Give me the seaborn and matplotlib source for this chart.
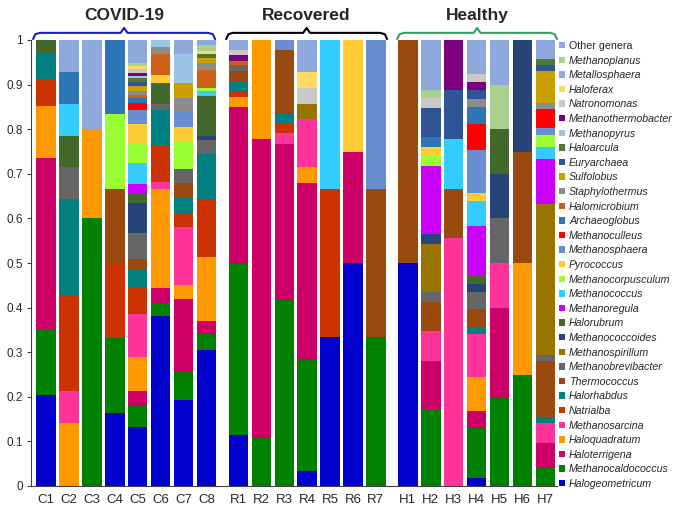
import matplotlib
matplotlib.use("Agg")
import matplotlib.pyplot as plt
from matplotlib.patches import Patch
import seaborn as sns
import pandas as pd
import numpy as np

# ── Data ───────────────────────────────────────────────────────────────────────
# genera in stacking order (bottom -> top)
genera = [
    "Halogeometricum", "Methanocaldococcus", "Haloterrigena", "Haloquadratum",
    "Methanosarcina", "Natrialba", "Halorhabdus", "Thermococcus",
    "Methanobrevibacter", "Methanospirillum", "Methanococcoides", "Halorubrum",
    "Methanoregula", "Methanococcus", "Methanocorpusculum", "Pyrococcus",
    "Methanosphaera", "Methanoculleus", "Archaeoglobus", "Halomicrobium",
    "Staphylothermus", "Sulfolobus", "Euryarchaea", "Haloarcula",
    "Methanopyrus", "Methanothermobacter", "Natronomonas", "Haloferax",
    "Metallosphaera", "Methanoplanus", "Other genera",
]
palette = [
    "#0000CC", "#008000", "#CC0066", "#FF9900",
    "#FF3399", "#CC3300", "#008080", "#9A4A0E",
    "#666666", "#997300", "#264478", "#43682B",
    "#CC00FF", "#33CCFF", "#99FF33", "#FFCC33",
    "#698ED0", "#FF0000", "#2E75B6", "#CC6014",
    "#8C8C8C", "#C9A000", "#2F5597", "#4F7A2E",
    "#9DC3E6", "#7F007F", "#C9C9C9", "#FFD966",
    "#8FAADC", "#A9D18E", "#8EA9DB",
]

# relative abundance per sample (genera not listed = 0)
c1 = {"Halogeometricum": .204, "Methanocaldococcus": .148, "Haloterrigena": .383,
      "Haloquadratum": .117, "Natrialba": .06, "Halorhabdus": .058, "Halorubrum": .03}
c2 = {"Haloquadratum": .142, "Methanosarcina": .072, "Natrialba": .214, "Halorhabdus": .215,
      "Methanobrevibacter": .072, "Halorubrum": .07, "Methanococcus": .072,
      "Archaeoglobus": .072, "Other genera": .071}
c3 = {"Methanocaldococcus": .6, "Haloquadratum": .2, "Other genera": .2}
c4 = {"Halogeometricum": .164, "Methanocaldococcus": .167, "Natrialba": .167,
      "Thermococcus": .169, "Methanocorpusculum": .167, "Archaeoglobus": .166}
c5 = {"Halogeometricum": .132, "Methanocaldococcus": .05, "Haloterrigena": .032,
      "Haloquadratum": .075, "Methanosarcina": .097, "Natrialba": .061, "Halorhabdus": .037,
      "Thermococcus": .024, "Methanobrevibacter": .059, "Methanococcoides": .068,
      "Halorubrum": .023, "Methanoregula": .019, "Methanococcus": .047,
      "Methanocorpusculum": .044, "Pyrococcus": .044, "Methanosphaera": .03,
      "Methanoculleus": .016, "Archaeoglobus": .011, "Halomicrobium": .008,
      "Staphylothermus": .009, "Sulfolobus": .011, "Euryarchaea": .009, "Haloarcula": .008,
      "Methanopyrus": .006, "Methanothermobacter": .007, "Natronomonas": .008,
      "Haloferax": .007, "Methanoplanus": .006, "Other genera": .052}
c6 = {"Halogeometricum": .381, "Methanocaldococcus": .03, "Haloterrigena": .032,
      "Haloquadratum": .224, "Methanosarcina": .015, "Natrialba": .08, "Halorhabdus": .08,
      "Methanobrevibacter": .015, "Halorubrum": .047, "Pyrococcus": .018,
      "Halomicrobium": .047, "Staphylothermus": .015, "Methanopyrus": .016}
c7 = {"Halogeometricum": .193, "Methanocaldococcus": .063, "Haloterrigena": .163,
      "Haloquadratum": .032, "Methanosarcina": .129, "Natrialba": .031, "Halorhabdus": .034,
      "Thermococcus": .034, "Methanobrevibacter": .031, "Methanocorpusculum": .064,
      "Pyrococcus": .032, "Methanosphaera": .033, "Staphylothermus": .03,
      "Sulfolobus": .034, "Methanopyrus": .066, "Other genera": .031}
c8 = {"Halogeometricum": .305, "Methanocaldococcus": .039, "Haloterrigena": .027,
      "Haloquadratum": .142, "Natrialba": .131, "Halorhabdus": .1, "Methanobrevibacter": .032,
      "Methanococcoides": .009, "Halorubrum": .089, "Methanococcus": .012,
      "Methanocorpusculum": .006, "Halomicrobium": .041, "Staphylothermus": .015,
      "Sulfolobus": .011, "Haloarcula": .009, "Haloferax": .007, "Methanoplanus": .014,
      "Other genera": .011}

r1 = {"Halogeometricum": .114, "Methanocaldococcus": .384, "Haloterrigena": .351,
      "Haloquadratum": .024, "Natrialba": .011, "Halorhabdus": .025, "Thermococcus": .022,
      "Methanobrevibacter": .013, "Halomicrobium": .01, "Methanothermobacter": .012,
      "Natronomonas": .012, "Other genera": .022}
r2 = {"Methanocaldococcus": .109, "Haloterrigena": .668, "Haloquadratum": .223}
r3 = {"Methanocaldococcus": .417, "Haloterrigena": .35, "Methanosarcina": .024,
      "Natrialba": .022, "Halorhabdus": .024, "Thermococcus": .141, "Methanosphaera": .022}
r4 = {"Halogeometricum": .034, "Methanocaldococcus": .25, "Haloterrigena": .395,
      "Haloquadratum": .036, "Methanosarcina": .107, "Methanospirillum": .035,
      "Natronomonas": .035, "Haloferax": .037, "Other genera": .071}
r5 = {"Halogeometricum": .333, "Natrialba": .334, "Methanococcus": .333}
r6 = {"Halogeometricum": .5, "Haloterrigena": .25, "Pyrococcus": .25}
r7 = {"Methanocaldococcus": .333, "Thermococcus": .334, "Methanosphaera": .333}

h1 = {"Halogeometricum": .5, "Thermococcus": .5}
h2 = {"Methanocaldococcus": .172, "Haloterrigena": .109, "Methanosarcina": .067,
      "Thermococcus": .065, "Methanobrevibacter": .021, "Methanospirillum": .109,
      "Methanococcoides": .022, "Methanoregula": .152, "Methanocorpusculum": .023,
      "Pyrococcus": .021, "Archaeoglobus": .022, "Euryarchaea": .065, "Natronomonas": .021,
      "Methanoplanus": .02, "Other genera": .111}
h3 = {"Methanosarcina": .555, "Thermococcus": .112, "Methanococcus": .11,
      "Euryarchaea": .112, "Methanothermobacter": .111}
h4 = {"Halogeometricum": .017, "Methanocaldococcus": .115, "Haloterrigena": .037,
      "Haloquadratum": .076, "Methanosarcina": .096, "Halorhabdus": .015, "Thermococcus": .04,
      "Methanobrevibacter": .038, "Methanococcoides": .02, "Halorubrum": .017,
      "Methanoregula": .112, "Methanococcus": .057, "Pyrococcus": .018,
      "Methanosphaera": .095, "Methanoculleus": .058, "Archaeoglobus": .038,
      "Staphylothermus": .018, "Euryarchaea": .021, "Methanothermobacter": .018,
      "Natronomonas": .018, "Other genera": .076}
h5 = {"Methanocaldococcus": .2, "Haloterrigena": .2, "Methanosarcina": .1,
      "Methanobrevibacter": .1, "Methanococcoides": .1, "Halorubrum": .1,
      "Methanoplanus": .1, "Other genera": .1}
h6 = {"Methanocaldococcus": .25, "Haloquadratum": .25, "Thermococcus": .25,
      "Methanococcoides": .25}
h7 = {"Methanocaldococcus": .04, "Haloterrigena": .057, "Methanosarcina": .044,
      "Halorhabdus": .013, "Thermococcus": .127, "Methanobrevibacter": .013,
      "Methanospirillum": .338, "Methanoregula": .101, "Methanococcus": .028,
      "Methanocorpusculum": .026, "Methanosphaera": .015, "Methanoculleus": .043,
      "Staphylothermus": .013, "Sulfolobus": .073, "Euryarchaea": .013, "Haloarcula": .013,
      "Other genera": .043}

sample_names = ["C1", "C2", "C3", "C4", "C5", "C6", "C7", "C8",
                "R1", "R2", "R3", "R4", "R5", "R6", "R7",
                "H1", "H2", "H3", "H4", "H5", "H6", "H7"]
compositions = [c1, c2, c3, c4, c5, c6, c7, c8,
                r1, r2, r3, r4, r5, r6, r7,
                h1, h2, h3, h4, h5, h6, h7]
groups = [("COVID-19", "#1A1AD0"), ("Recovered", "#000000"), ("Healthy", "#2EA860")]

# ── Layout ─────────────────────────────────────────────────────────────────────
positions = np.r_[np.arange(8), 8.4 + np.arange(7), 15.8 + np.arange(7)]

rows = []
for name, comp, x in zip(sample_names, compositions, positions):
    top = 0.0
    for g in genera:
        top += comp.get(g, 0.0)
        rows.append({"sample": name, "pos": x, "genus": g, "top": top})
df = pd.DataFrame(rows)

sns.set_style("ticks")
plt.rcParams["font.family"] = ["Liberation Sans", "DejaVu Sans"]

fig = plt.figure(figsize=(6.85, 5.15), dpi=100)
ax = fig.add_axes([31 / 685, 29 / 515, 526 / 685, 446 / 515])

# stacked bars: draw cumulative tops from the top layer down
for g, col in reversed(list(zip(genera, palette))):
    sns.barplot(data=df[df["genus"] == g], x="pos", y="top", color=col,
                native_scale=True, orient="x", width=0.85, errorbar=None,
                saturation=1, linewidth=0, ax=ax)

ax.set_xlim(-0.66, 22.31)
ax.set_ylim(0, 1)
ax.set_xticks(positions, sample_names, fontsize=9.5)
ax.set_yticks(np.arange(0, 1.01, 0.1),
              ["0", "0.1", "0.2", "0.3", "0.4", "0.5", "0.6", "0.7", "0.8", "0.9", "1"],
              fontsize=8.5)
ax.tick_params(axis="x", length=0, pad=6)
ax.tick_params(axis="y", length=3, width=0.8, color="#404040", pad=3)
ax.set_xlabel("")
ax.set_ylabel("")
sns.despine(ax=ax)
for side in ("left", "bottom"):
    ax.spines[side].set_color("#404040")
    ax.spines[side].set_linewidth(0.8)

# group braces + titles
spans = [(-0.57, 7.38), (7.86, 14.89), (15.33, 22.31)]
for (label, col), (x0, x1) in zip(groups, spans):
    xm = (x0 + x1) / 2
    bx = [x0, x0 + 0.1, x0 + 0.3, xm - 0.15, xm, xm + 0.15, x1 - 0.3, x1 - 0.1, x1]
    by = [1.002, 1.013, 1.016, 1.016, 1.027, 1.016, 1.016, 1.013, 1.002]
    ax.plot(bx, by, color=col, lw=1.5, clip_on=False, solid_capstyle="round")
    ax.text(xm, 1.056, label, ha="center", va="center", fontsize=12.5,
            fontweight="bold", clip_on=False)

# legend (top entry = top of stack)
handles = [Patch(facecolor=c, edgecolor="none") for c in palette[::-1]]
leg = fig.legend(handles, genera[::-1], loc="upper left",
                 bbox_to_anchor=(559 / 685, 1 - 41 / 515), frameon=False,
                 fontsize=7.7, handlelength=0.55, handleheight=0.55,
                 handletextpad=0.4, labelspacing=0.43, borderpad=0, borderaxespad=0)
for t in leg.get_texts():
    t.set_color("#262626")
    if t.get_text() != "Other genera":
        t.set_fontstyle("italic")

fig.savefig("out.png", dpi=100)
